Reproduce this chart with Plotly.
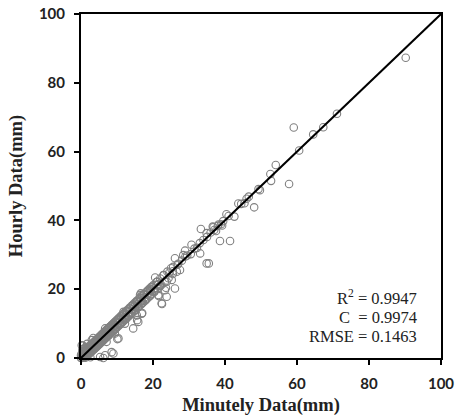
import plotly.graph_objects as go

# Outlying / sparse observations (minutely, hourly) in mm
sparse_x = [90.2, 71.1, 67.3, 59.1, 64.5, 60.6, 54.1, 52.6, 52.8, 57.8, 49.7, 49.3, 46.6, 48.1,
            43.7, 45.4, 40.4, 42.6, 38.9, 36.8, 33.3, 38.6, 41.4, 34.9, 33.0, 36.6, 35.5, 30.7,
            28.9, 28.4, 33.1, 26.1, 25.6, 26.6, 27.5, 20.6, 22.9, 23.8, 25.2, 21.0, 23.3, 16.9,
            21.5, 23.8, 22.4, 15.5, 19.2, 16.4, 19.2, 11.8, 15.5, 16.9, 15.9, 14.5, 9.4, 6.7,
            10.4, 7.1, 8.5, 6.7, 0.2, 3.0, 12.2, 5.3, 0.5, 3.4, 6.2, 9.0, 10.1, 15.6, 17.0,
            16.6, 22.5, 21.6, 26.1, 23.6, 34.9, 29.5, 30.5, 31.5, 32.2, 34.0, 35.0, 36.0, 37.0,
            38.0, 39.5, 41.0, 44.5, 46.0, 37.5, 38.2, 39.2, 27.0, 28.0, 29.0, 24.5, 25.5, 26.8]
sparse_y = [87.3, 71.0, 67.1, 67.0, 65.0, 60.3, 56.1, 53.5, 51.5, 50.6, 48.8, 49.1, 46.9, 43.8,
            44.9, 45.0, 41.8, 41.1, 38.9, 38.0, 37.5, 34.0, 34.0, 36.3, 33.4, 38.2, 27.5, 32.9,
            31.2, 29.9, 30.4, 29.0, 26.5, 25.1, 25.6, 23.4, 24.1, 22.2, 22.7, 21.2, 19.7, 18.3,
            18.3, 17.8, 15.9, 16.3, 19.7, 18.3, 20.2, 13.4, 12.4, 12.9, 10.5, 8.6, 7.1, 8.6,
            5.7, 4.7, 1.7, 0.8, 3.7, 5.2, 10.0, 0.3, 3.6, 5.8, 0.0, 1.3, 5.5, 11.0, 13.1,
            18.8, 15.7, 18.0, 20.2, 20.4, 27.5, 29.8, 30.2, 31.8, 32.0, 34.3, 35.2, 36.5, 37.2,
            38.4, 39.8, 41.3, 44.8, 46.3, 36.9, 38.8, 38.5, 27.4, 28.3, 29.5, 24.8, 25.2, 27.1]

# Dense band of small-rainfall observations
dense_x = [0.0, 0.1, 0.2, 0.3, 0.4, 0.5, 0.6, 0.8, 1.0, 1.1, 1.3, 1.5, 1.6, 1.8, 2.0, 2.1, 2.3,
           2.5, 2.7, 2.9, 3.0, 3.2, 3.4, 3.6, 3.8, 4.0, 4.2, 4.4, 4.6, 4.8, 5.0, 5.3, 5.5, 5.8,
           6.0, 6.3, 6.5, 6.8, 7.0, 7.3, 7.6, 7.9, 8.2, 8.5, 8.8, 9.1, 9.4, 9.7, 10.0, 10.4,
           10.8, 11.2, 11.6, 12.0, 12.4, 12.8, 13.2, 13.6, 14.0, 14.5, 15.0, 15.5, 16.0, 16.5,
           17.0, 17.5, 18.0, 18.6, 19.2, 19.8, 20.5, 21.2, 22.0,
           0.0, 0.2, 0.4, 0.7, 0.9, 1.2, 1.4, 1.7, 1.9, 2.2, 2.4, 2.6, 2.8, 3.1, 3.3, 3.5, 3.7,
           3.9, 4.1, 4.3, 4.5, 4.7, 4.9, 5.2, 5.4, 5.7, 5.9, 6.2, 6.4, 6.7, 6.9, 7.2, 7.5, 7.8,
           8.1, 8.4, 8.7, 9.0, 9.3, 9.6, 9.9, 10.3, 10.7, 11.1, 11.5, 11.9, 12.3, 12.7, 13.1,
           13.5, 13.9, 14.4, 14.9, 15.4, 15.9, 16.4, 16.9, 17.4, 17.9, 18.5, 19.1, 19.7, 20.4,
           21.1, 21.9, 0.0, 0.3, 0.6, 0.9, 1.2, 1.5, 1.8, 2.1, 2.4, 2.7, 3.0, 3.3, 3.6, 3.9,
           4.2, 4.5, 4.8, 5.1, 5.6, 6.1, 6.6, 7.1, 7.7, 8.3, 8.9, 9.5, 10.1, 10.9, 11.7, 12.5,
           13.3, 14.1, 14.9, 15.7, 16.6, 17.6, 18.4, 19.4, 20.2, 21.4, -0.3, 0.1, 0.4, 0.8,
           1.4, 2.0, 0.6, 1.0, 2.6, 1.7,
           0.5, 1.0, 1.5, 2.0, 2.5, 3.0, 3.5, 4.0, 4.5, 5.0, 5.5, 6.0, 6.5, 7.0, 7.5, 8.0, 8.5,
           9.0, 9.5, 10.0, 10.5, 11.0, 11.5, 12.0, 12.5, 13.0, 13.5, 14.0, 14.5, 15.0, 15.5,
           16.0, 16.5, 17.0, 17.5, 18.0, 18.5, 19.0, 19.5, 20.0, 21.0, 22.0, 23.0, 24.0, 25.0,
           0.7, 1.2, 1.7, 2.2, 2.7, 3.2, 3.7, 4.2, 4.7, 5.2, 5.7, 6.2, 6.7, 7.2, 7.7, 8.2, 8.7,
           9.2, 9.7, 10.2, 10.7, 11.2, 11.7, 12.2, 12.7, 13.2, 13.7, 14.2, 14.7, 15.2, 15.7,
           16.2, 16.7, 17.2, 17.7, 18.2, 18.7, 19.2, 19.7, 20.3, 21.3, 22.3, 23.3, 24.3, 25.5]
dense_y = [0.8, 0.0, 1.3, 0.3, 2.0, 0.9, 0.1, 1.6, 0.4, 2.1, 0.8, 2.4, 1.0, 2.9, 1.3, 3.0, 1.6,
           3.3, 1.9, 3.8, 2.1, 4.0, 2.5, 4.5, 2.8, 4.9, 3.3, 5.3, 3.6, 5.7, 4.0, 6.3, 4.6, 6.8,
           5.0, 7.2, 5.6, 7.7, 6.0, 8.3, 6.5, 8.9, 7.2, 9.5, 7.8, 10.1, 8.3, 10.6, 9.0, 11.3,
           9.8, 12.2, 10.6, 13.0, 11.3, 13.7, 12.2, 14.4, 13.0, 15.3, 14.0, 16.4, 15.0, 17.4,
           16.0, 18.3, 17.1, 19.5, 18.2, 20.7, 19.6, 22.2, 21.0,
           -0.3, 0.6, -0.2, 1.1, 0.3, 1.8, 0.6, 2.4, 1.1, 2.9, 1.6, 3.4, 2.0, 3.9, 2.4, 4.3, 2.9,
           4.7, 3.2, 5.2, 3.6, 5.6, 4.0, 6.1, 4.5, 6.6, 5.0, 7.1, 5.5, 7.6, 6.0, 8.1, 6.5, 8.6,
           7.1, 9.3, 7.7, 9.9, 8.4, 10.5, 9.0, 11.2, 9.7, 12.0, 10.5, 12.8, 11.3, 13.6, 12.2,
           14.4, 12.9, 15.3, 13.8, 16.3, 14.8, 17.3, 15.9, 18.4, 16.8, 19.5, 18.0, 20.7, 19.3,
           22.1, 20.9, 0.0, 0.3, 0.6, 0.9, 1.2, 1.5, 1.8, 2.1, 2.4, 2.7, 3.0, 3.3, 3.6, 3.9,
           4.2, 4.5, 4.8, 5.1, 5.6, 6.1, 6.6, 7.1, 7.7, 8.3, 8.9, 9.5, 10.1, 10.9, 11.7, 12.5,
           13.3, 14.1, 14.9, 15.7, 16.6, 17.6, 18.4, 19.4, 20.2, 21.4, 0.4, -0.5, 2.6, -0.4,
           3.2, -0.6, -0.3, 2.8, 0.2, 4.1,
           1.6, 2.1, 2.6, 3.1, 3.6, 4.1, 4.6, 5.1, 5.6, 6.1, 6.6, 7.1, 7.6, 8.1, 8.6, 9.1, 9.6,
           10.1, 10.6, 11.1, 11.6, 12.1, 12.6, 13.1, 13.6, 14.1, 14.6, 15.1, 15.6, 16.1, 16.6,
           17.1, 17.6, 18.1, 18.6, 19.1, 19.6, 20.1, 20.6, 21.1, 22.1, 23.1, 24.1, 25.1, 26.1,
           -0.4, 0.1, 0.6, 1.1, 1.6, 2.1, 2.6, 3.1, 3.6, 4.1, 4.6, 5.1, 5.6, 6.1, 6.6, 7.1, 7.6,
           8.1, 8.6, 9.1, 9.6, 10.1, 10.6, 11.1, 11.6, 12.1, 12.6, 13.1, 13.6, 14.1, 14.6,
           15.1, 15.6, 16.1, 16.6, 17.1, 17.6, 18.1, 18.6, 19.2, 20.2, 21.2, 22.2, 23.2, 24.4]

# 1:1 reference line
line_x = [0, 100]
line_y = [0, 100]

tick_vals = [0, 20, 40, 60, 80, 100]
stats_lines = ["R<sup>2</sup> = 0.9947", "C  = 0.9974", "RMSE = 0.1463"]
stats_ypos = [0.176, 0.118, 0.063]

fig = go.Figure()
marker_style = dict(symbol="circle-open", size=7.5, color="#808080", line=dict(width=1.1, color="#808080"))
fig.add_trace(go.Scatter(x=dense_x, y=dense_y, mode="markers", marker=marker_style,
                         cliponaxis=False, showlegend=False, hoverinfo="skip"))
fig.add_trace(go.Scatter(x=sparse_x, y=sparse_y, mode="markers", marker=marker_style,
                         cliponaxis=False, showlegend=False, hoverinfo="skip"))
fig.add_trace(go.Scatter(x=line_x, y=line_y, mode="lines", line=dict(color="black", width=2),
                         showlegend=False, hoverinfo="skip"))

axis_common = dict(
    range=[0, 100], tickvals=tick_vals, ticks="outside", ticklen=5, tickwidth=1.5,
    tickcolor="black", showline=True, linecolor="black", linewidth=2, mirror=True,
    showgrid=False, zeroline=False, automargin=False,
    tickfont=dict(family="Lato, Open Sans, Arial, sans-serif", size=15, color="#222222", weight="bold"),
    ticklabelstandoff=6,
)
title_font = dict(family="Liberation Serif, Times New Roman, serif", size=18.5,
                  color="#222222", weight="bold")

fig.update_layout(
    width=456, height=420,
    margin=dict(l=81, r=15, t=14, b=62),
    paper_bgcolor="white", plot_bgcolor="white",
    xaxis=dict(**axis_common, title=dict(text="Minutely Data(mm)", standoff=7, font=title_font)),
    yaxis=dict(**axis_common, title=dict(text="Hourly Data(mm)", standoff=11, font=title_font)),
    annotations=[dict(x=0.939, y=yp, xref="paper", yref="paper", xanchor="right", yanchor="middle",
                      text=t, showarrow=False, align="right",
                      font=dict(family="Liberation Serif, Times New Roman, serif", size=16.5,
                                color="#222222"))
                 for t, yp in zip(stats_lines, stats_ypos)],
)

fig.write_html("out.html", config={"displayModeBar": False},
               post_script="document.body.style.margin='0';")
